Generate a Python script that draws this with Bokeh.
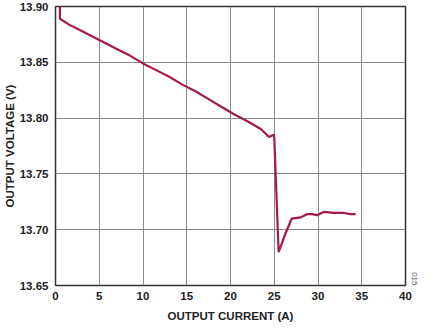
import numpy as np
from bokeh.plotting import figure
from bokeh.models import FixedTicker, NumeralTickFormatter, Title
from bokeh.embed import file_html
from bokeh.resources import INLINE

current = [0.5, 0.5, 1.5, 3.0, 4.5, 5.5, 7.0, 8.5, 10.0, 11.5, 13.0, 14.5, 16.0, 17.5, 19.0, 20.5,
           22.0, 23.5, 24.4, 24.95, 25.0, 25.5, 26.2, 27.0, 28.0, 28.8, 29.3, 29.9, 30.7, 31.8, 33.0, 33.7, 34.3]
voltage = [13.93, 13.889, 13.884, 13.878, 13.872, 13.868, 13.862, 13.856, 13.849, 13.843, 13.837, 13.830,
           13.824, 13.817, 13.810, 13.803, 13.797, 13.790, 13.783, 13.785, 13.783, 13.680, 13.695, 13.710,
           13.711, 13.714, 13.714, 13.713, 13.716, 13.715, 13.715, 13.714, 13.714]
x_ticks = [0, 5, 10, 15, 20, 25, 30, 35, 40]
y_ticks = [13.65, 13.70, 13.75, 13.80, 13.85, 13.90]

p = figure(width=435, height=328, x_range=(0, 40), y_range=(13.65, 13.90),
           output_backend="svg", toolbar_location=None,
           min_border_left=55, min_border_right=30, min_border_top=6, min_border_bottom=43)

p.line(current, voltage, line_color="#a8174a", line_width=2.2)

font = "Liberation Sans"
for ax in (p.xaxis[0], p.yaxis[0]):
    ax.major_label_text_font = font
    ax.major_label_text_font_style = "bold"
    ax.major_label_text_font_size = "11.5px"
    ax.major_label_text_color = "#222222"
    ax.axis_label_text_font = font
    ax.axis_label_text_font_style = "bold"
    ax.axis_label_text_font_size = "11.5px"
    ax.axis_label_text_color = "#222222"
    ax.major_tick_line_color = None
    ax.minor_tick_line_color = None
    ax.major_tick_out = 0
    ax.major_tick_in = 0
    ax.axis_line_color = None

p.xaxis.ticker = FixedTicker(ticks=x_ticks)
p.yaxis.ticker = FixedTicker(ticks=y_ticks)
p.yaxis.formatter = NumeralTickFormatter(format="0.00")
p.xaxis.axis_label = "OUTPUT CURRENT (A)"
p.yaxis.axis_label = "OUTPUT VOLTAGE (V)"
p.xaxis.major_label_standoff = 6
p.yaxis.major_label_standoff = 7
p.xaxis.axis_label_standoff = 7
p.yaxis.axis_label_standoff = 1

p.grid.grid_line_color = "#8a8a8a"
p.grid.grid_line_width = 1
p.outline_line_color = "#333333"
p.outline_line_width = 1.5
p.background_fill_color = "white"
p.border_fill_color = "white"

p.add_layout(Title(text="015", align="right", standoff=12,
                   text_font=font, text_font_size="8px", text_font_style="normal",
                   text_color="#555555"), "right")

open("out.html", "w").write(file_html(p, INLINE))
